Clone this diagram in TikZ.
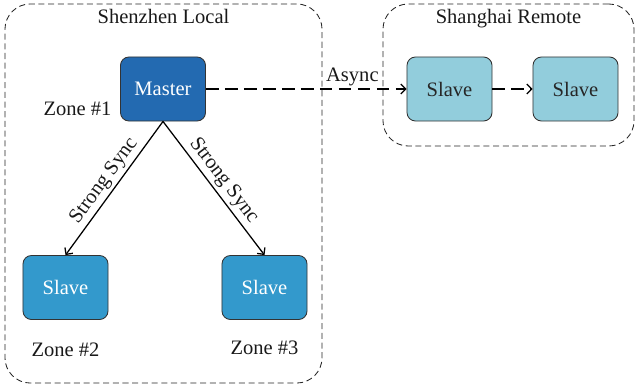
\documentclass[tikz,border=0pt]{standalone}
\usepackage{fontspec}
\setmainfont{Liberation Serif}
\usetikzlibrary{arrows.meta,positioning}
\definecolor{mastercolor}{RGB}{35,106,177}
\definecolor{localcolor}{RGB}{51,153,204}
\definecolor{remotecolor}{RGB}{146,205,220}

\begin{document}
\begin{tikzpicture}[
  x=0.025cm,y=-0.025cm,
  >={Straight Barb[length=3.5pt,width=7pt]},
  every node/.style={font=\fontsize{14.6}{17}\selectfont},
  db/.style={rectangle,rounded corners=6pt,draw=black!80,line width=0.6pt,
             minimum width=2.125cm,minimum height=1.6cm,inner sep=2pt},
  master/.style={db,fill=mastercolor,text=white},
  slave/.style={db,fill=localcolor,text=white},
  replica/.style={db,fill=remotecolor,text=black!85},
  region/.style={rectangle,rounded corners=18pt,draw=black!85,line width=0.6pt,
                 dash pattern=on 4.3pt off 2.6pt,inner sep=0pt},
  sync/.style={->,line width=0.9pt},
  async/.style={->,line width=0.9pt,dash pattern=on 9pt off 4.5pt},
  lbl/.style={inner sep=2pt,text=black!90}
]
\useasboundingbox (0,0) rectangle (638,387);
%% Régions
\node[region,minimum width=7.925cm,minimum height=9.475cm] (SZ) at (163.5,193.5) {};
\node[region,minimum width=6.275cm,minimum height=3.55cm]  (SH) at (508.5,75) {};
\node[lbl,below=2pt of SZ.north] (SZt) {Shenzhen Local};
\node[lbl,below=2pt of SH.north] (SHt) {Shanghai Remote};
%% Nœuds
\node[master]  (M)  at (163,89)    {Master};
\node[slave]   (S2) at (65.5,287.5) {Slave};
\node[slave]   (S3) at (264.5,287.5) {Slave};
\node[replica] (R1) at (449.5,89)  {Slave};
\node[replica] (R2) at (575.5,89)  {Slave};
%% Zones
\node[lbl,anchor=east]  (Z1) at ([xshift=-4pt,yshift=9pt]M.south west) {Zone \#1};
\node[lbl,below=0.5cm of S2]  (Z2) {Zone \#2};
\node[lbl,below=0.45cm of S3] (Z3) {Zone \#3};
%% Arcs
\draw[sync] (M.south) -- node[lbl,sloped,above]{Strong Sync} (S2.north);
\draw[sync] (M.south) -- node[lbl,sloped,above]{Strong Sync} (S3.north);
\draw[async] (M) -- node[lbl,above,pos=0.73]{Async} (R1);
\draw[async] (R1) -- (R2);
\end{tikzpicture}
\end{document}
